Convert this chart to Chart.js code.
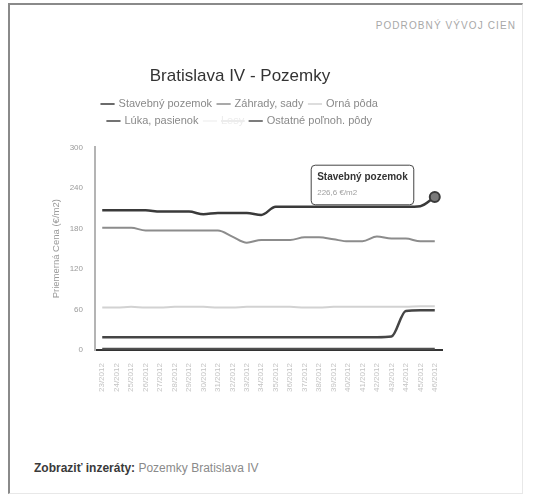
<!DOCTYPE html>
<html lang="sk">
<head>
<meta charset="utf-8">
<title>Bratislava IV - Pozemky</title>
<script src="https://cdn.jsdelivr.net/npm/chart.js@4/dist/chart.umd.min.js"></script>
<style>
  html, body { margin: 0; padding: 0; background: #fff; }
  body { width: 533px; height: 497px; position: relative; overflow: hidden;
         font-family: "Liberation Sans", Arial, sans-serif; }
  .frame { position: absolute; left: 8px; top: 3px; width: 512px; height: 488px;
           border-top: 2px solid #8a8a8a; border-left: 2px solid #8a8a8a;
           border-right: 1px solid #e8e8e8; border-bottom: 1px solid #e8e8e8; }
  .head { position: absolute; right: 17px; top: 20px; font-size: 10px; color: #a8a8a8;
          letter-spacing: 1.1px; }
  .foot { position: absolute; left: 34px; top: 461px; font-size: 12px; color: #8a8a8a; }
  .foot b { color: #3a3a3a; }
  #wrap { position: absolute; left: 14px; top: 55px; width: 446px; height: 350px; }
</style>
</head>
<body>
<div class="frame"></div>
<div class="head">PODROBNÝ VÝVOJ CIEN</div>
<div id="wrap"><canvas id="c"></canvas></div>
<div class="foot"><b>Zobraziť inzeráty:</b> Pozemky Bratislava IV</div>

<script>
// Týždne 2012 (os X)
const weeks = ['23/2012','24/2012','25/2012','26/2012','27/2012','28/2012','29/2012','30/2012',
               '31/2012','32/2012','33/2012','34/2012','35/2012','36/2012','37/2012','38/2012',
               '39/2012','40/2012','41/2012','42/2012','43/2012','44/2012','45/2012','46/2012'];

// Priemerné ceny v €/m2
const stavebnyPozemok = [207,207,207,207,205,205,205,201,203,203,203,200,212,212,212,212,212,212,212,212,212,212,213,226.6];
const zahradySady     = [181,181,181,177,177,177,177,177,177,168,159,163,163,163,167,167,164,161,161,168,165,165,161,161];
const ornaPoda        = [63,63,64,63,63,64,64,64,63,63,64,64,64,64,63,63,64,64,64,64,64,64,65,65];
const lukaPasienok    = [19,19,19,19,19,19,19,19,19,19,19,19,19,19,19,19,19,19,19,19,20,58,59,59];
const lesy            = [];
const ostatne         = [2,2,2,2,2,2,2,2,2,2,2,2,2,2,2,2,2,2,2,2,2,2,2,2];

const yTicks = [0, 60, 120, 180, 240, 300];

const FONT = '"Liberation Sans", Arial, sans-serif';

function series(label, data, color, width, hidden) {
  return {
    label, data, hidden: !!hidden,
    borderColor: color, backgroundColor: color,
    borderWidth: width, pointRadius: 0,
    pointHoverRadius: 5, pointHoverBorderWidth: 2,
    pointHoverBackgroundColor: '#7a7a7a', pointHoverBorderColor: '#3a3a3a',
    cubicInterpolationMode: 'monotone', fill: false
  };
}

// Bublina vždy pri poslednom bode
Chart.Tooltip.positioners.pinned = function (items) {
  if (!items.length) return false;
  const el = items[0].element;
  return { x: el.x - 21, y: el.y - 12, xAlign: 'right', yAlign: 'center' };
};

// Legenda: užšie riadky (3 položky na riadok) a medzera pod ňou
const legendRows = {
  id: 'legendRows',
  beforeLayout(chart) {
    const lg = chart.legend;
    if (!lg || lg.$rowsPatched) return;
    const fit = lg.fit.bind(lg);
    lg.fit = function () {
      const full = this.maxWidth;
      this.maxWidth = Math.min(full, 320);
      fit();
      this.maxWidth = full;
      this.width = full;
      this.height += 11;
    };
    lg.$rowsPatched = true;
  }
};

const chart = new Chart(document.getElementById('c'), {
  type: 'line',
  plugins: [legendRows],
  data: {
    labels: weeks,
    datasets: [
      series('Stavebný pozemok', stavebnyPozemok, '#3a3a3a', 2.5),
      series('Záhrady, sady', zahradySady, '#8c8c8c', 2),
      series('Orná pôda', ornaPoda, '#d2d2d2', 2),
      series('Lúka, pasienok', lukaPasienok, '#454545', 2.5),
      series('Lesy', lesy, '#f0f0f0', 2, true),
      series('Ostatné poľnoh. pôdy', ostatne, '#505050', 2)
    ]
  },
  options: {
    responsive: true,
    maintainAspectRatio: false,
    animation: false,
    events: [],
    layout: { padding: { left: 24, right: 18, top: 0, bottom: 0 } },
    plugins: {
      title: {
        display: true, text: 'Bratislava IV - Pozemky', color: '#333',
        font: { family: FONT, size: 17, weight: 'normal' },
        padding: { top: 11, bottom: 6 }
      },
      legend: {
        position: 'top',
        labels: {
          usePointStyle: true, pointStyle: 'line', boxWidth: 14, boxHeight: 10,
          padding: 6, color: '#8a8a8a',
          font: { family: FONT, size: 11 },
          generateLabels(ch) {
            const items = Chart.defaults.plugins.legend.labels.generateLabels(ch);
            items.forEach(it => {
              it.lineWidth = 1.5;
              if (it.hidden) { it.fontColor = '#ececec'; it.strokeStyle = '#f2f2f2'; }
            });
            return items;
          }
        }
      },
      tooltip: {
        position: 'pinned',
        backgroundColor: 'rgba(255,255,255,0.95)',
        borderColor: '#444', borderWidth: 1, cornerRadius: 4,
        caretSize: 0, caretPadding: 0, displayColors: false,
        padding: { top: 6, bottom: 7, left: 6, right: 6 },
        titleColor: '#333', titleFont: { family: FONT, size: 10, weight: 'bold' },
        titleMarginBottom: 5,
        bodyColor: '#a0a0a0', bodyFont: { family: FONT, size: 8 },
        callbacks: {
          title: items => items[0].dataset.label,
          label: item => item.parsed.y.toFixed(1).replace('.', ',') + ' €/m2'
        }
      }
    },
    scales: {
      x: {
        offset: true,
        grid: { display: false, drawTicks: false },
        border: { display: true, color: '#333', width: 2 },
        ticks: {
          autoSkip: false, maxRotation: 90, minRotation: 90, padding: 13,
          color: '#c4c4c4', font: { family: FONT, size: 8 }
        }
      },
      y: {
        min: 0, max: 300,
        afterBuildTicks(axis) { axis.ticks = yTicks.map(v => ({ value: v })); },
        afterFit(axis) { axis.width = 57; },
        grid: { display: false, drawTicks: false },
        border: { display: true, color: '#b4b4b4', width: 2 },
        ticks: { padding: 12, color: '#9a9a9a', font: { family: FONT, size: 8 } },
        title: {
          display: true, text: 'Priemerná Cena (€/m2)', color: '#9a9a9a',
          font: { family: FONT, size: 9.5 }, padding: { top: 13, bottom: 2 }
        }
      }
    }
  }
});

const lastIndex = stavebnyPozemok.length - 1;
const lastPoint = chart.getDatasetMeta(0).data[lastIndex];
chart.setActiveElements([{ datasetIndex: 0, index: lastIndex }]);
chart.tooltip.setActiveElements([{ datasetIndex: 0, index: lastIndex }], { x: lastPoint.x, y: lastPoint.y });
chart.update('none');
</script>
</body>
</html>
